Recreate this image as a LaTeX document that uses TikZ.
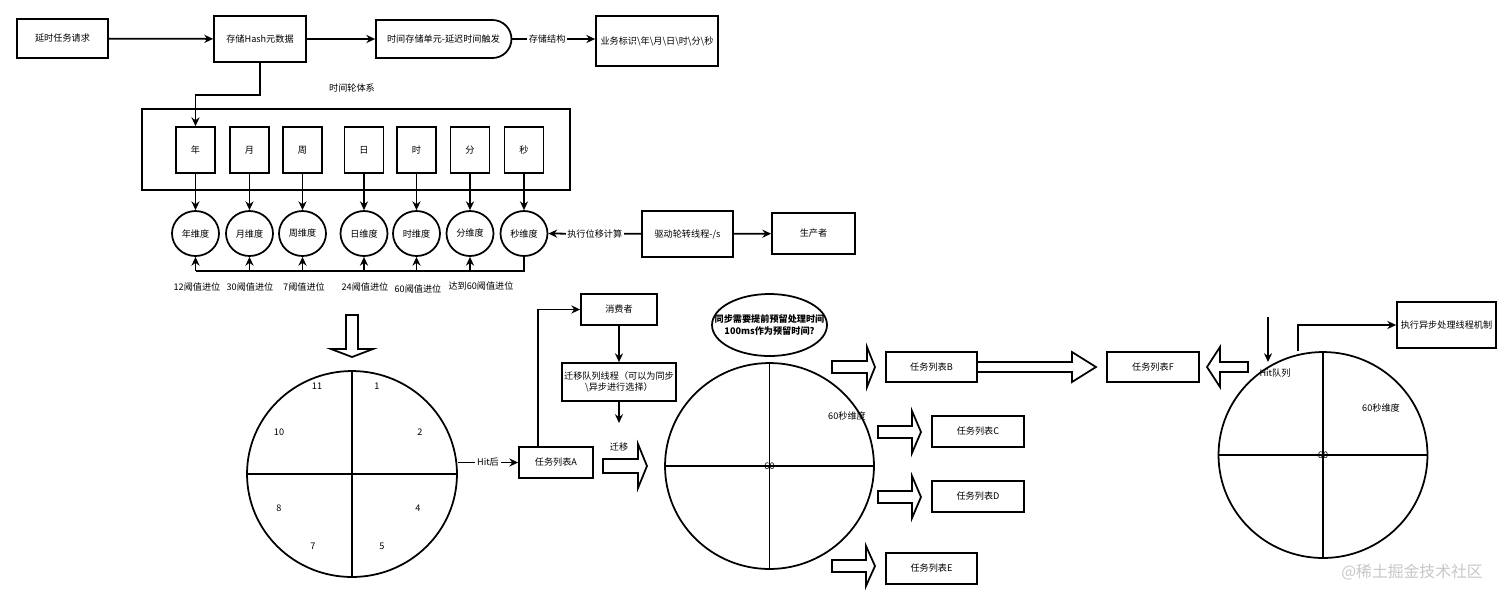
\documentclass[tikz,border=0pt]{standalone}
\usepackage{fontspec}
\setmainfont{Noto Sans CJK SC}
\usetikzlibrary{arrows.meta,shapes.geometric,shapes.misc}
\newcommand{\smallcn}{\fontsize{5.2}{6.6}\selectfont}
% block arrows: tail, tip, position across, shaft half, head half, head length
\newcommand{\hblock}[6]{\draw[blk] ({#1},{#3-#4}) -- ({#2-#6},{#3-#4}) -- ({#2-#6},{#3-#5}) -- ({#2},{#3})
  -- ({#2-#6},{#3+#5}) -- ({#2-#6},{#3+#4}) -- ({#1},{#3+#4}) -- cycle;}
\newcommand{\vblock}[6]{\draw[blk] ({#1-#4},{#2}) -- ({#1-#4},{#3-#6}) -- ({#1-#5},{#3-#6}) -- ({#1},{#3})
  -- ({#1+#5},{#3-#6}) -- ({#1+#4},{#3-#6}) -- ({#1+#4},{#2}) -- cycle;}
\tikzset{
  box/.style={draw, line width=1pt, inner sep=1pt, align=center, font=\smallcn},
  unit/.style={box, minimum width=0.78cm, minimum height=0.92cm},
  dimnode/.style={draw, ellipse, line width=1pt, minimum width=0.94cm, minimum height=0.9cm, inner sep=0pt, font=\smallcn},
  wheelnode/.style={draw, ellipse, line width=1pt, inner sep=0pt},
  lbl/.style={font=\smallcn, inner sep=1pt},
  onarr/.style={lbl, fill=white},
  arr/.style={line width=1pt, -{Stealth[length=5pt,width=4.6pt]}},
  blk/.style={draw, line width=1pt, fill=white, line join=miter},
}

\begin{document}
\begin{tikzpicture}[x=0.02cm, y=-0.02cm]
  \useasboundingbox (0,0) rectangle (1512,600);
  % Top row
  \node[box, minimum width=1.82cm, minimum height=0.78cm] (req) at (62.5,38.5) {延时任务请求};
  \node[box, minimum width=1.84cm, minimum height=0.92cm] (hash) at (260,39) {存储Hash元数据};
  \node[box, rounded rectangle, rounded rectangle left arc=none, minimum width=2.78cm, minimum height=0.76cm]
    (delay) at (443.5,39) {时间存储单元-延迟时间触发};
  \node[box, minimum width=2.44cm, minimum height=1cm] (biz) at (657,41)
    {业务标识\textbackslash 年\textbackslash 月\textbackslash 日\textbackslash 时\textbackslash 分\textbackslash 秒};
  \draw[arr] (req) -- (hash);
  \draw[arr] (hash) -- (delay);
  \draw[arr] (delay.east) -- (biz.west |- delay.east) node[onarr, pos=0.42] {存储结构};

  % Time wheel system
  \node[lbl] (twlabel) at (352,88) {时间轮体系};
  \node[box, minimum width=8.56cm, minimum height=1.62cm] (wheel) at (356,149.5) {};
  \node[unit] (yr) at (195.5,150) {年};
  \node[unit] (mo) at (249.5,150) {月};
  \node[unit] (wk) at (302.5,150) {周};
  \node[unit] (dy) at (364,150) {日};
  \node[unit] (hr) at (416.5,150) {时};
  \node[unit] (mi) at (470,150) {分};
  \node[unit] (se) at (524,150) {秒};
  \draw[arr] (hash.south) -- ++(0,32) -| (yr.north);

  % Dimensions
  \node[dimnode] (yrd) at (195.5,233.5) {年维度};
  \node[dimnode] (mod) at (249.5,233.5) {月维度};
  \node[dimnode] (wkd) at (302.5,233.5) {周维度};
  \node[dimnode] (dyd) at (364,233.5) {日维度};
  \node[dimnode] (hrd) at (416.5,233.5) {时维度};
  \node[dimnode] (mid) at (470,233.5) {分维度};
  \node[dimnode] (sed) at (524,233.5) {秒维度};
  \draw[arr] (yr) -- (yrd);
  \draw[arr] (mo) -- (mod);
  \draw[arr] (wk) -- (wkd);
  \draw[arr] (dy) -- (dyd);
  \draw[arr] (hr) -- (hrd);
  \draw[arr] (mi) -- (mid);
  \draw[arr] (se) -- (sed);

  % Carry line
  \coordinate (bus) at (0,271);
  \draw[line width=1pt] (sed.south) -- (sed.south |- bus) -- (yrd.south |- bus);
  \draw[arr] (yrd.south |- bus) -- (yrd.south);
  \draw[arr] (mod.south |- bus) -- (mod.south);
  \draw[arr] (wkd.south |- bus) -- (wkd.south);
  \draw[arr] (dyd.south |- bus) -- (dyd.south);
  \draw[arr] (hrd.south |- bus) -- (hrd.south);
  \draw[arr] (mid.south |- bus) -- (mid.south);
  \node[lbl] (c12) at (197,287) {12阈值进位};
  \node[lbl] (c30) at (250,287) {30阈值进位};
  \node[lbl] (c7) at (304,287) {7阈值进位};
  \node[lbl] (c24) at (365,287) {24阈值进位};
  \node[lbl] (c60) at (418,289) {60阈值进位};
  \node[lbl] (c60s) at (481,286) {达到60阈值进位};

  % Driver
  \node[box, minimum width=1.82cm, minimum height=0.92cm] (drive) at (687.5,234) {驱动轮转线程-/s};
  \node[box, minimum width=1.66cm, minimum height=0.82cm] (prod) at (813.5,233.5) {生产者};
  \draw[arr] (drive) -- (sed) node[onarr, midway] {执行位移计算};
  \draw[arr] (drive) -- (prod);

  % Hour wheel
  \vblock{352}{315}{357}{6}{21}{8}
  \node[wheelnode, minimum width=4.2cm, minimum height=4.12cm] (clock) at (352,474) {};
  \draw[line width=1pt] (clock.north) -- (clock.south) (clock.west) -- (clock.east);
  \node[lbl] (h11) at (317,386) {11};
  \node[lbl] (h1) at (377,386) {1};
  \node[lbl] (h10) at (279,432) {10};
  \node[lbl] (h2) at (420,432) {2};
  \node[lbl] (h8) at (279,508) {8};
  \node[lbl] (h4) at (418,508) {4};
  \node[lbl] (h7) at (313,546) {7};
  \node[lbl] (h5) at (382,546) {5};

  % Consumer
  \node[box, minimum width=1.48cm, minimum height=0.62cm] (lista) at (556,462.5) {任务列表A};
  \draw[arr] (clock.east |- lista) -- (lista) node[onarr, midway] {Hit后};
  \node[box, minimum width=1.52cm, minimum height=0.62cm] (cons) at (619,309.5) {消费者};
  \node[box, minimum width=2.28cm, minimum height=0.76cm] (mig) at (619,382)
    {迁移队列线程（可以为同步\\\textbackslash 异步进行选择）};
  \draw[arr] ([xshift=-0.36cm]lista.north) |- (cons);
  \draw[arr] (cons) -- (mig);
  \coordinate (migend) at (619,423);
  \draw[arr] (mig) -- (migend);
  \node[lbl] (miglbl) at (619,447) {迁移};
  \hblock{603}{647}{466}{7}{22}{9}

  % Second wheel
  \node[draw, ellipse, line width=1pt, minimum width=2.3cm, minimum height=1.24cm] (note) at (769.5,325) {};
  \node[lbl, font=\smallcn\bfseries, align=center] (notetext) at (note.center)
    {同步需要提前预留处理时间\\100ms作为预留时间?};
  \node[wheelnode, minimum width=4.18cm, minimum height=4.12cm] (wheelb) at (769.5,466) {};
  \draw[line width=1pt] (wheelb.north) -- (wheelb.south) (wheelb.west) -- (wheelb.east);
  \node[lbl] (centb) at (wheelb.center) {60};
  \node[lbl] (secb) at (847,416) {60秒维度};

  % Task lists
  \node[box, minimum width=1.82cm, minimum height=0.6cm] (lstb) at (931.5,367) {任务列表B};
  \node[box, minimum width=1.84cm, minimum height=0.62cm] (lstc) at (978,431.5) {任务列表C};
  \node[box, minimum width=1.84cm, minimum height=0.62cm] (lstd) at (978,496.5) {任务列表D};
  \node[box, minimum width=1.82cm, minimum height=0.62cm] (lste) at (931.5,568.5) {任务列表E};
  \node[box, minimum width=1.84cm, minimum height=0.6cm] (lstf) at (1153,367) {任务列表F};
  \hblock{832}{875}{367}{6}{20}{8}
  \hblock{878}{921}{432}{6}{21}{9}
  \hblock{878}{921}{497}{6}{21}{9}
  \hblock{832}{875}{566}{6}{20}{9}
  \hblock{977}{1096}{367}{5}{15}{24}
  \hblock{1248}{1207}{367}{5}{20}{-13}

  % Third wheel
  \node[wheelnode, minimum width=4.18cm, minimum height=4.12cm] (wheelc) at (1323,455) {};
  \draw[line width=1pt] (wheelc.north) -- (wheelc.south) (wheelc.west) -- (wheelc.east);
  \node[lbl] (centc) at (wheelc.center) {60};
  \node[lbl] (secc) at (1381,408) {60秒维度};
  \coordinate (hitin) at (1268,317);
  \draw[arr] (hitin) -- ++(0,45);
  \node[lbl] (hitq) at (1275,373) {Hit队列};
  \node[box, minimum width=1.98cm, minimum height=0.92cm] (async) at (1446.5,325) {执行异步处理线程机制};
  \draw[arr] ([xshift=-0.5cm]wheelc.north) |- (async);

  \node[font=\fontsize{9}{10}\selectfont, text=black!22] (mark) at (1412,572) {@稀土掘金技术社区};
\end{tikzpicture}
\end{document}
